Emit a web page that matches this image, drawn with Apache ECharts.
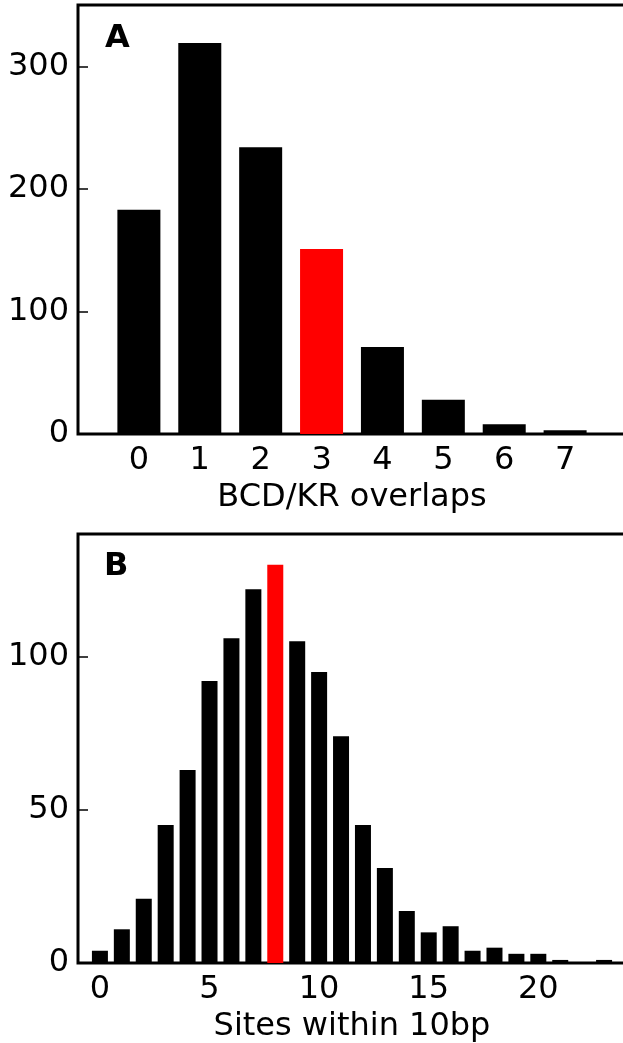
<!DOCTYPE html>
<html>
<head>
<meta charset="utf-8">
<script src="https://cdn.jsdelivr.net/npm/echarts@6/dist/echarts.min.js"></script>
<style>
  html, body { margin: 0; padding: 0; background: #fff; }
  #chart { width: 623px; height: 1043px; }
</style>
</head>
<body>
<div id="chart"></div>
<script>
// Panel A: number of BCD/KR overlaps per enhancer
const overlapCounts = [0, 1, 2, 3, 4, 5, 6, 7];
const overlapValues = [183, 319, 234, 151, 71, 28, 8, 3];
const overlapHighlight = 3;
const overlapTicks = [0, 1, 2, 3, 4, 5, 6, 7];
const overlapYTicks = [0, 100, 200, 300];

// Panel B: number of sites within 10bp
const siteCounts = [0, 1, 2, 3, 4, 5, 6, 7, 8, 9, 10, 11, 12, 13, 14, 15, 16, 17, 18, 19, 20, 21, 22, 23];
const siteValues = [4, 11, 21, 45, 63, 92, 106, 122, 130, 105, 95, 74, 45, 31, 17, 10, 12, 4, 5, 3, 3, 1, 0, 1];
const siteHighlight = 8;
const siteTicks = [0, 5, 10, 15, 20];
const siteYTicks = [0, 50, 100];

const FONT = 'DejaVu Sans';
const BLACK = '#000000';
const RED = '#ff0000';

function barData(xs, ys, hi) {
  return xs.map((x, i) => ({
    value: [x, ys[i]],
    itemStyle: { color: x === hi ? RED : BLACK }
  }));
}

function xAxisFor(gridIndex, min, max, ticks, name) {
  return {
    type: 'value', gridIndex, min, max, interval: 1,
    axisLine: { show: false, onZero: false },
    axisTick: { show: false },
    splitLine: { show: false },
    axisLabel: {
      fontFamily: FONT, fontSize: 32, color: BLACK, margin: 11,
      showMinLabel: true, showMaxLabel: true,
      formatter: v => ticks.includes(v) ? String(v) : ''
    },
    name, nameLocation: 'middle', nameGap: 48,
    nameTextStyle: { fontFamily: FONT, fontSize: 32, color: BLACK }
  };
}

function yAxisFor(gridIndex, max, interval, ticks) {
  return {
    type: 'value', gridIndex, min: 0, max, interval,
    axisLine: { show: false, onZero: false },
    axisTick: { show: true, inside: true, length: 10, lineStyle: { color: BLACK, width: 1.5 } },
    splitLine: { show: false },
    axisLabel: {
      fontFamily: FONT, fontSize: 32, color: BLACK, margin: 9,
      formatter: v => ticks.includes(v) ? String(v) : ''
    }
  };
}

const chart = echarts.init(document.getElementById('chart'), null, { renderer: 'canvas' });

const gridBase = {
  left: 78, width: 548, height: 429,
  show: true, borderColor: BLACK, borderWidth: 3, backgroundColor: 'transparent',
  containLabel: false, outerBoundsMode: 'none'
};

chart.setOption({
  animation: false,
  backgroundColor: '#ffffff',
  grid: [
    Object.assign({}, gridBase, { top: 5 }),
    Object.assign({}, gridBase, { top: 534 })
  ],
  xAxis: [
    xAxisFor(0, -1, 8, overlapTicks, 'BCD/KR overlaps'),
    xAxisFor(1, -1, 24, siteTicks, 'Sites within 10bp')
  ],
  yAxis: [
    yAxisFor(0, 350, 100, overlapYTicks),
    yAxisFor(1, 140, 50, siteYTicks)
  ],
  series: [
    {
      type: 'bar', xAxisIndex: 0, yAxisIndex: 0, barWidth: 43,
      data: barData(overlapCounts, overlapValues, overlapHighlight)
    },
    {
      type: 'bar', xAxisIndex: 1, yAxisIndex: 1, barWidth: 16,
      data: barData(siteCounts, siteValues, siteHighlight)
    }
  ],
  graphic: [
    { type: 'text', left: 105, top: 23, style: { text: 'A', font: 'bold 32px "DejaVu Sans"', fill: BLACK } },
    { type: 'text', left: 104, top: 551, style: { text: 'B', font: 'bold 32px "DejaVu Sans"', fill: BLACK } }
  ]
});
</script>
</body>
</html>
